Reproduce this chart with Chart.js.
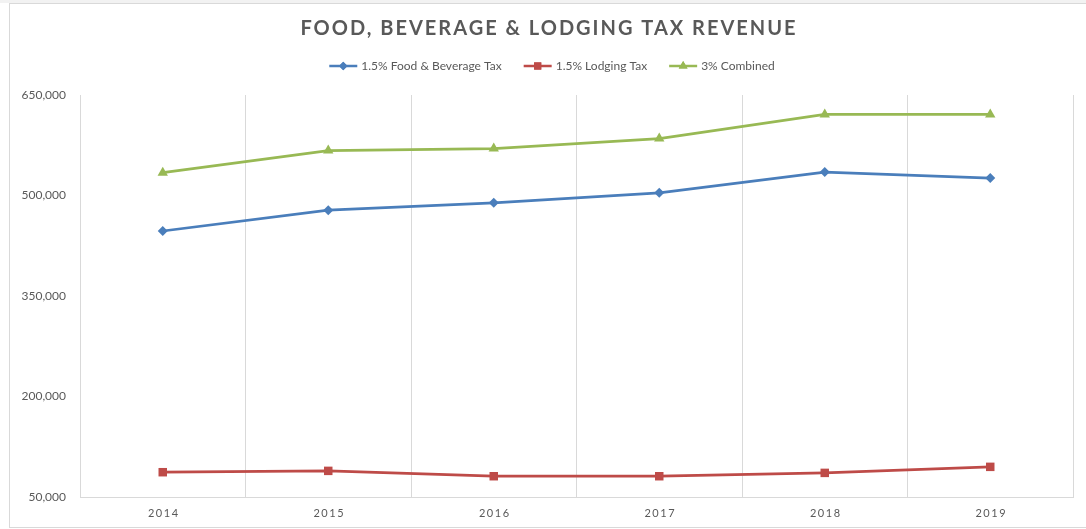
<!DOCTYPE html>
<html>
<head>
<meta charset="utf-8">
<script src="https://cdn.jsdelivr.net/npm/chart.js@4/dist/chart.umd.min.js"></script>
<style>
  body { margin: 0; background: #fff; }
  canvas { display: block; }
</style>
</head>
<body>
<canvas id="myChart" width="1086" height="529"></canvas>
<script>
const years = ['2014', '2015', '2016', '2017', '2018', '2019'];
const foodBev = [447000, 478000, 489000, 504000, 535000, 526000];
const lodging = [87000, 89000, 81000, 81000, 86000, 95000];
const combined = [534000, 567000, 570000, 585000, 621000, 621000];
const yTicks = [50000, 200000, 350000, 500000, 650000];

const chartTitle = 'FOOD, BEVERAGE & LODGING TAX REVENUE';
const textColor = '#595959';
const gridColor = '#d9d9d9';

// marco, titulo, leyenda y etiquetas de años
const decoracion = {
    id: 'decoracion',
    beforeDraw(chart) {
        const ctx = chart.ctx;
        ctx.save();
        ctx.fillStyle = '#f2f2f2';
        ctx.fillRect(0, 0, chart.width, 3);
        ctx.strokeStyle = gridColor;
        ctx.lineWidth = 1;
        ctx.strokeRect(9.5, 3.5, chart.width, 524);
        ctx.restore();
    },
    afterDraw(chart) {
        const ctx = chart.ctx;
        ctx.save();
        ctx.fillStyle = textColor;
        ctx.textBaseline = 'middle';
        ctx.textAlign = 'center';

        ctx.font = 'bold 20px Lato';
        ctx.letterSpacing = '2px';
        ctx.fillText(chartTitle, 549, 29);

        // años del eje x
        ctx.font = '11px Lato';
        ctx.letterSpacing = '1.5px';
        const xScale = chart.scales.x;
        years.forEach((y, i) => {
            ctx.fillText(y, xScale.getPixelForValue(i) + 1, 513);
        });

        // leyenda
        ctx.letterSpacing = '0px';
        ctx.font = '12px Lato';
        ctx.textAlign = 'left';
        const items = chart.data.datasets;
        const lineW = 28, gap = 4, itemGap = 22;
        let total = 0;
        items.forEach((d, i) => {
            total += lineW + gap + ctx.measureText(d.label).width;
            if (i < items.length - 1) total += itemGap;
        });
        let x = 552 - total / 2;
        const ly = 66;
        items.forEach(d => {
            ctx.strokeStyle = d.borderColor;
            ctx.lineWidth = 2.5;
            ctx.beginPath();
            ctx.moveTo(x, ly);
            ctx.lineTo(x + lineW, ly);
            ctx.stroke();
            ctx.fillStyle = d.borderColor;
            Chart.helpers.drawPoint(ctx, {
                pointStyle: d.pointStyle,
                radius: d.pointRadius * 0.85,
                rotation: 0,
                borderWidth: 0
            }, x + lineW / 2, ly);
            ctx.fill();
            ctx.fillStyle = textColor;
            ctx.fillText(d.label, x + lineW + gap, ly);
            x += lineW + gap + ctx.measureText(d.label).width + itemGap;
        });
        ctx.restore();
    }
};

function serie(label, data, color, style, radius) {
    return {
        label: label,
        data: data,
        borderColor: color,
        backgroundColor: color,
        borderWidth: 2.75,
        pointStyle: style,
        pointRadius: radius,
        pointHoverRadius: radius,
        pointBorderWidth: 0,
        tension: 0,
        fill: false
    };
}

var ctx = document.getElementById('myChart').getContext('2d');
var myChart = new Chart(ctx, {
    type: 'line',
    data: {
        labels: years,
        datasets: [
            serie('1.5% Food & Beverage Tax', foodBev, '#4a7ebb', 'rectRot', 5),
            serie('1.5% Lodging Tax', lodging, '#be4b48', 'rect', 6),
            serie('3% Combined', combined, '#98b954', 'triangle', 6)
        ]
    },
    options: {
        responsive: false,
        animation: false,
        layout: { padding: { top: 95, right: 13, left: 0, bottom: 0 } },
        plugins: {
            legend: { display: false },
            title: { display: false },
            tooltip: { enabled: false }
        },
        scales: {
            x: {
                offset: true,
                grid: { offset: true, color: gridColor, drawTicks: false, lineWidth: 1 },
                border: { color: gridColor },
                ticks: { display: false },
                afterFit(scale) { scale.height = 32; }
            },
            y: {
                min: 50000,
                max: 650000,
                grid: { display: false, drawTicks: false },
                border: { display: false },
                afterBuildTicks(scale) {
                    scale.ticks = yTicks.map(v => ({ value: v }));
                },
                ticks: {
                    color: textColor,
                    font: { family: 'Lato', size: 12 },
                    padding: 14,
                    callback: v => v.toLocaleString('en-US')
                },
                afterFit(scale) { scale.width = 80; }
            }
        }
    },
    plugins: [decoracion]
});
</script>
</body>
</html>
